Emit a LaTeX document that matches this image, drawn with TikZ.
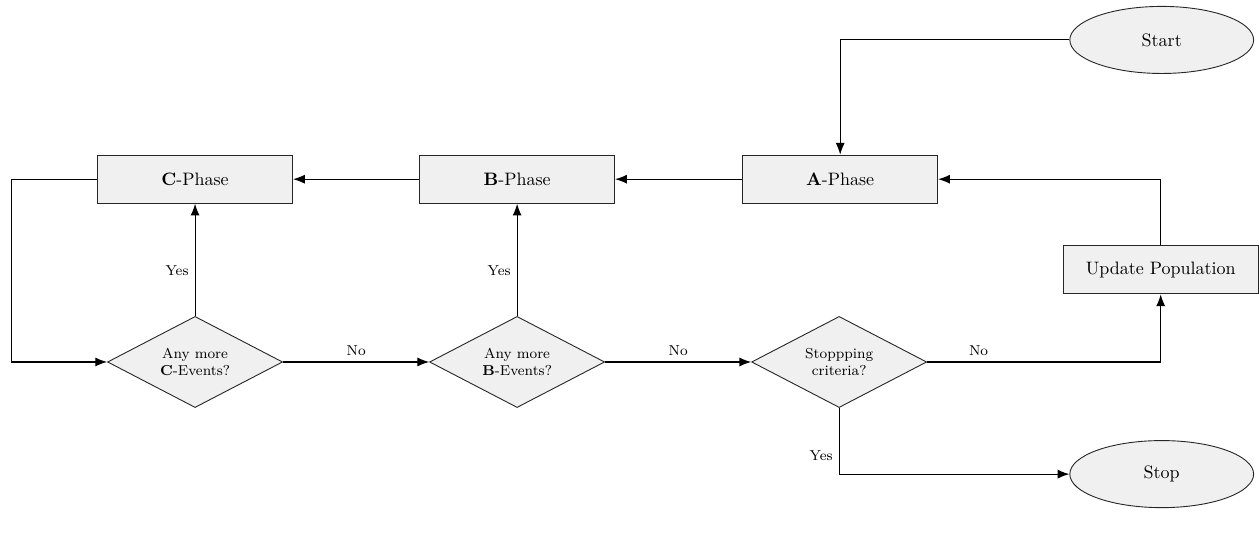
\documentclass[tikz,border=0pt]{standalone}
\usepackage{tikz}
\usetikzlibrary{arrows.meta,positioning,shapes.geometric}

\begin{document}
\begin{tikzpicture}[
    >={Latex[length=6.5pt,width=5pt]},
    line width=0.6pt,
    phase/.style={draw=black!85, fill=black!6, line width=0.5pt, minimum width=3.81cm, minimum height=0.94cm, align=center},
    term/.style={draw=black!85, fill=black!6, line width=0.5pt, ellipse, minimum width=3.59cm, minimum height=1.31cm},
    check/.style={draw=black!85, fill=black!6, line width=0.5pt, diamond, aspect=1.92, minimum width=3.42cm, minimum height=1.78cm, align=center, font=\footnotesize, inner sep=1pt},
    lbl/.style={font=\footnotesize}
]
\useasboundingbox (0,0) rectangle (24.59,10.41);

\node[term] (start) at (22.69,9.63) {Start};
\node[term] (stop) at (22.69,1.15) {Stop};

\node[check] (dc) at (3.81,3.34) {Any more\\\textbf{C}-Events?};
\node[check] (db) at (10.10,3.34) {Any more\\\textbf{B}-Events?};
\node[check] (ds) at (16.39,3.34) {Stoppping\\criteria?};

\node[phase] (pa) at (16.41,6.91) {\textbf{A}-Phase};
\node[phase] (pb) at (db |- pa) {\textbf{B}-Phase};
\node[phase] (pc) at (dc |- pa) {\textbf{C}-Phase};
\node[phase] (upd) at (22.67,5.14) {Update Population};
\coordinate (cbend) at (0.23,6.91);

\draw[->] (start.west) -| (pa.north);
\draw[->] (pa.west) -- (pb.east);
\draw[->] (pb.west) -- (pc.east);
\draw[->] (pc.west) -- (cbend) |- (dc.west);
\draw[->] (dc.north) -- node[lbl, left, pos=0.4] {Yes} (pc.south);
\draw[->] (dc.east) -- node[lbl, above] {No} (db.west);
\draw[->] (db.north) -- node[lbl, left, pos=0.4] {Yes} (pb.south);
\draw[->] (db.east) -- node[lbl, above] {No} (ds.west);
\draw[->] (ds.east) -| node[lbl, above, pos=0.11] {No} (upd.south);
\draw[->] (upd.north) |- (pa.east);
\draw[->] (ds.south) |- node[lbl, left, pos=0.36] {Yes} (stop.west);
\end{tikzpicture}
\end{document}
